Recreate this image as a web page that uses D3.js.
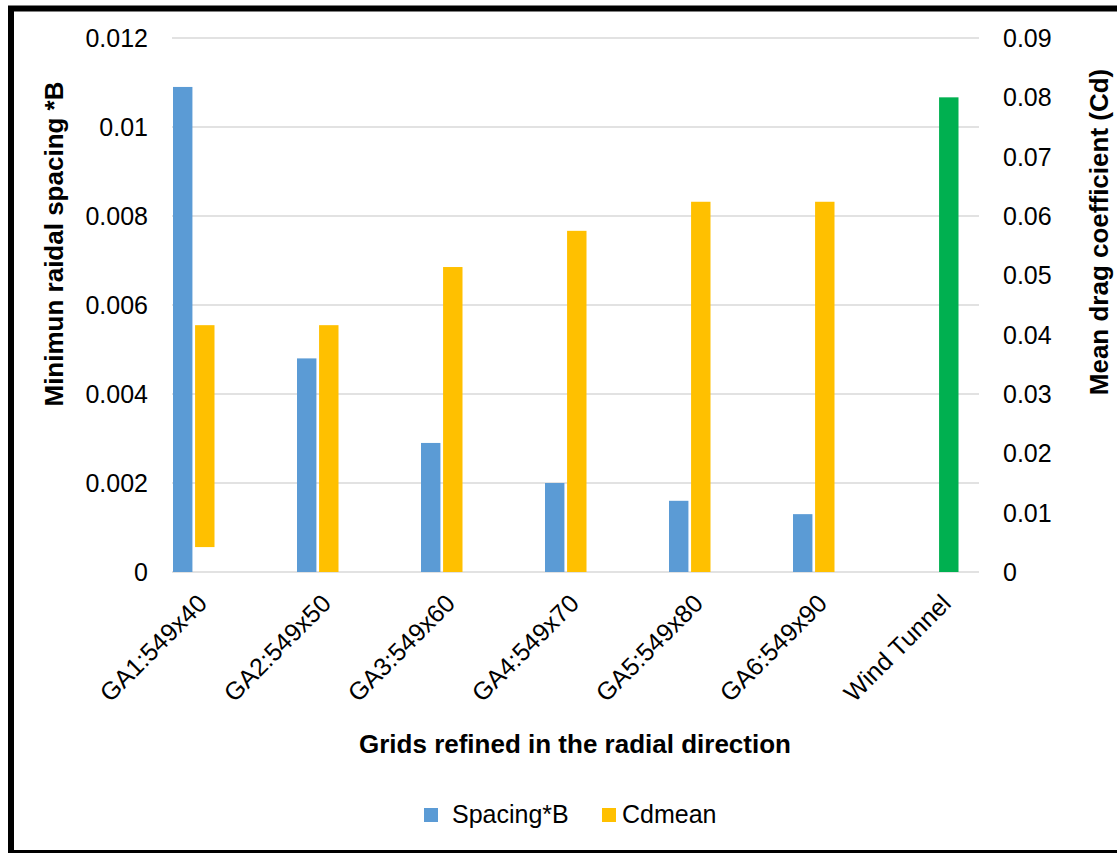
<!DOCTYPE html>
<html>
<head>
<meta charset="utf-8">
<script src="https://cdn.jsdelivr.net/npm/d3@7"></script>
<style>
  html, body { margin: 0; padding: 0; background: #fff; }
  svg { display: block; font-family: "Liberation Sans", Arial, sans-serif; }
</style>
</head>
<body>
<svg id="chart" width="1117" height="853"></svg>
<script>
const categories = ["GA1:549x40", "GA2:549x50", "GA3:549x60", "GA4:549x70", "GA5:549x80", "GA6:549x90", "Wind Tunnel"];
const spacingB = [0.0109, 0.0048, 0.0029, 0.0020, 0.0016, 0.0013, null];
const cdmean = [0.0416, 0.0416, 0.0514, 0.0575, 0.0624, 0.0624, 0.0800];
const cdmeanBase = [0.0042, 0, 0, 0, 0, 0, 0];
const leftTicks = [0, 0.002, 0.004, 0.006, 0.008, 0.01, 0.012];
const rightTicks = [0, 0.01, 0.02, 0.03, 0.04, 0.05, 0.06, 0.07, 0.08, 0.09];
const seriesNames = ["Spacing*B", "Cdmean"];

const colors = { spacing: "#5B9BD5", cd: "#FFC000", tunnel: "#00B050" };

const svg = d3.select("#chart");

const plotLeft = 172, plotRight = 979, plotTop = 38, plotBottom = 572;

const x = d3.scaleBand().domain(categories).range([131.5, 999.5]).padding(0);
const xSub = d3.scaleBand().domain(["spacing", "cd"]).range([41.5, 83]).paddingInner(0.12);
const yL = d3.scaleLinear().domain([0, 0.012]).range([plotBottom, plotTop]);
const yR = d3.scaleLinear().domain([0, 0.09]).range([plotBottom, plotTop]);

const fmt = v => String(+v.toFixed(4));

// gridlines
svg.append("g").selectAll("line").data(leftTicks).join("line")
  .attr("x1", plotLeft).attr("x2", plotRight)
  .attr("y1", d => yL(d)).attr("y2", d => yL(d))
  .attr("stroke", "#d9d9d9").attr("stroke-width", 1.5);

// left tick labels
svg.append("g").selectAll("text").data(leftTicks).join("text")
  .attr("x", 148).attr("y", d => yL(d)).attr("dy", "0.36em")
  .attr("text-anchor", "end").attr("font-size", 25).attr("fill", "#000")
  .text(fmt);

// right tick labels
svg.append("g").selectAll("text").data(rightTicks).join("text")
  .attr("x", 1003).attr("y", d => yR(d)).attr("dy", "0.36em")
  .attr("text-anchor", "start").attr("font-size", 25).attr("fill", "#000")
  .text(fmt);

// bars: spacing
const idx = categories.map((c, i) => i);
svg.append("g").selectAll("rect").data(idx.filter(i => spacingB[i] != null)).join("rect")
  .attr("x", i => x(categories[i]) + xSub("spacing"))
  .attr("width", xSub.bandwidth())
  .attr("y", i => yL(spacingB[i]))
  .attr("height", i => yL(0) - yL(spacingB[i]))
  .attr("fill", colors.spacing);

// bars: cdmean
svg.append("g").selectAll("rect").data(idx).join("rect")
  .attr("x", i => x(categories[i]) + xSub("cd"))
  .attr("width", xSub.bandwidth())
  .attr("y", i => yR(cdmean[i]))
  .attr("height", i => yR(cdmeanBase[i]) - yR(cdmean[i]))
  .attr("fill", i => categories[i] === "Wind Tunnel" ? colors.tunnel : colors.cd);

// x tick labels
svg.append("g").selectAll("text").data(categories).join("text")
  .attr("transform", d => `translate(${x(d) + x.bandwidth() / 2 + 15},605) rotate(-45)`)
  .attr("text-anchor", "end").attr("font-size", 25).attr("fill", "#000")
  .text(d => d);

// axis titles
svg.append("text")
  .attr("transform", "translate(63,244) rotate(-90)")
  .attr("text-anchor", "middle").attr("font-size", 26).attr("font-weight", "bold")
  .text("Minimun raidal spacing *B");

svg.append("text")
  .attr("transform", "translate(1108,232) rotate(-90)")
  .attr("text-anchor", "middle").attr("font-size", 26).attr("font-weight", "bold")
  .text("Mean drag coefficient (Cd)");

svg.append("text")
  .attr("x", 575).attr("y", 753)
  .attr("text-anchor", "middle").attr("font-size", 26).attr("font-weight", "bold")
  .text("Grids refined in the radial direction");

// legend
const legendItems = [
  { name: seriesNames[0], color: colors.spacing, sx: 424, tx: 452 },
  { name: seriesNames[1], color: colors.cd, sx: 602, tx: 622 }
];
const lg = svg.append("g");
lg.selectAll("rect").data(legendItems).join("rect")
  .attr("x", d => d.sx).attr("y", 808).attr("width", 14).attr("height", 14)
  .attr("fill", d => d.color);
lg.selectAll("text").data(legendItems).join("text")
  .attr("x", d => d.tx).attr("y", 823).attr("font-size", 25).attr("fill", "#000")
  .text(d => d.name);

// frame
svg.append("rect")
  .attr("x", 11).attr("y", 8.5).attr("width", 1200).attr("height", 844.5)
  .attr("fill", "none").attr("stroke", "#000").attr("stroke-width", 6);
</script>
</body>
</html>
